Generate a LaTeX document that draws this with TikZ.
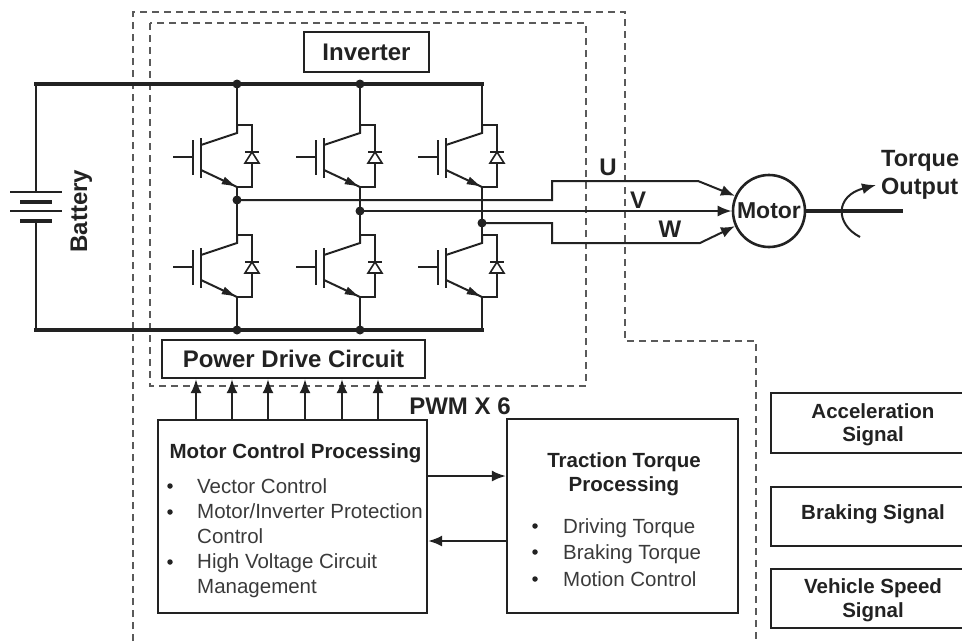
\documentclass[tikz,border=0pt]{standalone}
\usepackage{fontspec}
\setmainfont{Liberation Sans}
\usetikzlibrary{arrows.meta}
\newcommand{\fbig}{\fontsize{24}{28}\selectfont\bfseries}
\newcommand{\ftq}{\fontsize{23.5}{28}\selectfont\bfseries}
\newcommand{\fmot}{\fontsize{23}{28}\selectfont\bfseries}
\newcommand{\fmid}{\fontsize{20.5}{24}\selectfont\bfseries}
\newcommand{\freg}{\fontsize{20.5}{24}\selectfont}
\definecolor{ink}{HTML}{222222}
\definecolor{dashc}{HTML}{5A5A5A}
\definecolor{txt}{HTML}{3A3A3A}
\tikzset{
 wire/.style={line width=2pt, draw=ink},
 rail/.style={line width=3.2pt, draw=ink},
 dashline/.style={draw=dashc, line width=1.4pt, dash pattern=on 7pt off 5pt},
 blk/.style={draw=ink, line width=2.3pt, inner sep=0pt},
 lbl/.style={inner sep=0pt, text=ink, anchor=base},
 item/.style={inner sep=0pt, text=txt, anchor=base west, font=\freg},
 jdot/.style={circle, fill=ink, inner sep=0pt, minimum size=9pt},
 bul/.style={circle, fill=ink, inner sep=0pt, minimum size=5.5pt},
 arr/.style={-{Latex[length=14pt,width=11pt]}},
 igbt/.pic={
   \draw[wire] (0,-32) -- (0,-24) -- (-36,-12);
   \draw[wire, line width=2.4pt] (-36,-19) -- (-36,21);
   \draw[wire, line width=2.4pt] (-44,-17) -- (-44,18);
   \draw[wire] (-64,0) -- (-44,0);
   \draw[wire] (-36,13) -- (0,30);
   \fill[ink] (-2,29) -- (-15.6,27.1) -- (-12.1,19.9) -- cycle;
   \draw[wire] (0,-32) -- (15,-32) -- (15,30) -- (0,30);
   \draw[wire, fill=white, line width=1.6pt] (8,6) -- (22,6) -- (15,-5) -- cycle;
   \draw[wire, line width=1.6pt] (8,-5) -- (22,-5);
 }
}
\begin{document}
\begin{tikzpicture}[x=1pt,y=-1pt]
\useasboundingbox (0,0) rectangle (962,641);

% dashed frames
\draw[dashline] (150,23) rectangle (586,386);
\draw[dashline] (133,641) -- (133,12) -- (625,12) -- (625,341) -- (756,341) -- (756,641);

% battery
\coordinate (bt) at (36,84);
\coordinate (bb) at (36,330);
\draw[wire] (bt) -- (36,192);
\draw[wire] (36,221) -- (bb);
\draw[ink, line width=2.2pt] (10,192) -- (62,192);
\draw[ink, line width=4.2pt] (20,202) -- (52,202);
\draw[ink, line width=2.2pt] (10,211) -- (62,211);
\draw[ink, line width=4.2pt] (20,221) -- (52,221);
\node[lbl, rotate=90, font=\fbig] (bat) at (87,211) {Battery};

% rails
\coordinate (tr) at (482,84);
\coordinate (br) at (482,330);
\draw[rail] ([xshift=-1.6pt]bt) -- ([xshift=1.6pt]tr);
\draw[rail] ([xshift=-1.6pt]bb) -- ([xshift=1.6pt]br);

% inverter legs
\foreach \x/\m/\n in {237/200/j1, 360/211/j2, 482/223/j3}{
  \pic at (\x,157) {igbt};
  \pic at (\x,267) {igbt};
  \draw[wire] (\x,84) -- (\x,125);
  \draw[wire] (\x,187) -- (\x,235);
  \draw[wire] (\x,297) -- (\x,330);
  \node[jdot] (\n) at (\x,\m) {};
}
\node[jdot] (t1) at (237,84) {};
\node[jdot] (t2) at (360,84) {};
\node[jdot] (b1) at (237,330) {};
\node[jdot] (b2) at (360,330) {};

\node[blk, minimum width=125pt, minimum height=40pt, font=\fbig, text=ink] (inv) at (366.5,52) {Inverter};

% motor
\node[circle, draw=ink, line width=2.6pt, minimum size=72pt, inner sep=0pt, font=\fmot, text=ink] (motor) at (769,211) {Motor};

% phase wires
\draw[wire, arr] (j1.center) -- (552,200) -- (552,181) -- (698,181) -- (motor.156);
\draw[wire, arr] (j2.center) -- (motor.west);
\draw[wire, arr] (j3.center) -- (552,223) -- (552,243) -- (700,243) -- (motor.204);
\node[lbl, font=\fbig] (U) at (608,175) {U};
\node[lbl, font=\fbig] (V) at (638,208) {V};
\node[lbl, font=\fbig] (W) at (670,237) {W};

% shaft and torque
\coordinate (shaftend) at (903,211);
\draw[ink, line width=4.2pt] (motor.east) -- (shaftend);
\coordinate (rs) at (860,237);
\coordinate (re) at (876,185);
\draw[wire, arr] (rs) .. controls (835,224) and (835,196) .. (re);
\node[lbl, anchor=base west, font=\ftq] (tq) at (881,166) {Torque};
\node[lbl, anchor=base west, font=\ftq] (tout) at (881,194) {Output};

% power drive circuit
\node[blk, minimum width=263pt, minimum height=38pt, font=\fbig, text=ink] (pdc) at (293.5,359) {Power Drive Circuit};

% motor control processing
\node[blk, minimum width=269pt, minimum height=193pt] (mcp) at (292.5,516.5) {};
\node[lbl, font=\fmid] (mcpt) at (295.5,458) {Motor Control Processing};
\node[bul] at (170,486) {};
\node[item] (m1) at (197,493) {Vector Control};
\node[bul] at (170,512) {};
\node[item] (m2) at (197,518) {Motor/Inverter Protection};
\node[item] (m3) at (197,543) {Control};
\node[bul] at (170,562) {};
\node[item] (m4) at (197,568) {High Voltage Circuit};
\node[item] (m5) at (197,593) {Management};

% PWM arrows
\foreach \x in {196,232,268,305,342,378}{
  \draw[wire, arr] (\x,0 |- mcp.north) -- (\x,0 |- pdc.south);
}
\node[lbl, font=\fbig] (pwm) at (460,414) {PWM X 6};

% traction torque processing
\node[blk, minimum width=231pt, minimum height=194pt] (ttp) at (622.5,516) {};
\node[lbl, font=\fmid] (ttpt1) at (624,467) {Traction Torque};
\node[lbl, font=\fmid] (ttpt2) at (624,491) {Processing};
\node[bul] at (535,526) {};
\node[item] (t1i) at (563,533) {Driving Torque};
\node[bul] at (535,552) {};
\node[item] (t2i) at (563,559) {Braking Torque};
\node[bul] at (535,579) {};
\node[item] (t3i) at (563,586) {Motion Control};

\draw[wire, arr] (mcp.east |- 0,476) -- (ttp.west |- 0,476);
\draw[wire, arr] (ttp.west |- 0,541) -- (mcp.east |- 0,541);

% signal boxes
\node[blk, minimum width=204pt, minimum height=60pt] (acc) at (873,423) {};
\node[lbl, font=\fmid] at (873,418) {Acceleration};
\node[lbl, font=\fmid] at (873,441) {Signal};
\node[blk, minimum width=204pt, minimum height=59pt] (brk) at (873,516.5) {};
\node[lbl, font=\fmid] at (873,519) {Braking Signal};
\node[blk, minimum width=204pt, minimum height=59pt] (vss) at (873,598.5) {};
\node[lbl, font=\fmid] at (873,593) {Vehicle Speed};
\node[lbl, font=\fmid] at (873,617) {Signal};
\end{tikzpicture}
\end{document}
